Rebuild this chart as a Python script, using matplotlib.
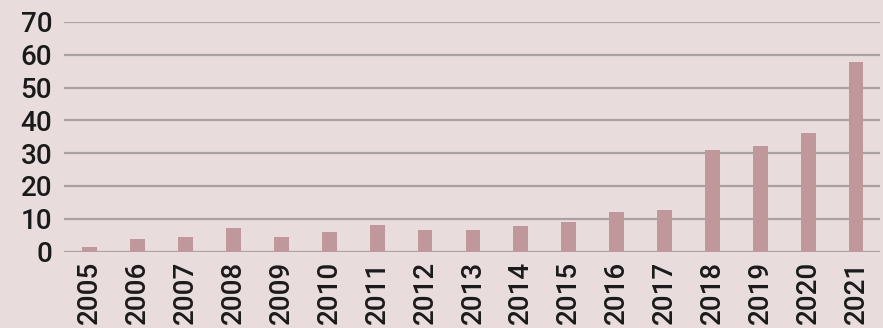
import matplotlib
matplotlib.use("Agg")
import matplotlib.pyplot as plt

years = [str(y) for y in range(2005, 2022)]
values = [1.5, 3.9, 4.5, 7.1, 4.5, 6.0, 8.0, 6.7, 6.7, 7.7, 8.9, 12.0, 12.7, 31.1, 32.3, 36.2, 57.8]
yticks = [0, 10, 20, 30, 40, 50, 60, 70]

bg = "#e8dcdd"
plt.rcParams['font.family'] = ['Roboto', 'DejaVu Sans']
fig = plt.figure(figsize=(8.83, 3.28), dpi=100, facecolor=bg)
ax = fig.add_axes([64/883, 1 - 251.5/328, (880-64)/883, (251.5-22)/328], facecolor=bg)
x = list(range(len(years)))
ax.bar(x, values, width=0.31, color="#c0979b", zorder=3)
ax.set_xlim(-0.54, len(years) - 0.5)
ax.set_ylim(0, 70)
ax.set_yticks(yticks)
ax.set_yticklabels([str(t) for t in yticks], fontsize=20, fontweight='medium', color="#1a1a1a")
ax.set_xticks(x)
ax.set_xticklabels(years, rotation=90, fontsize=20, fontweight='medium', color="#1a1a1a")
ax.grid(axis='y', color="#aaa2a2", linewidth=1.6, zorder=0)
for s in ax.spines.values():
    s.set_visible(False)
ax.tick_params(axis='both', length=0)
ax.tick_params(axis='y', pad=8.5)
ax.tick_params(axis='x', pad=7)
fig.savefig("out.png", dpi=100, facecolor=bg)
